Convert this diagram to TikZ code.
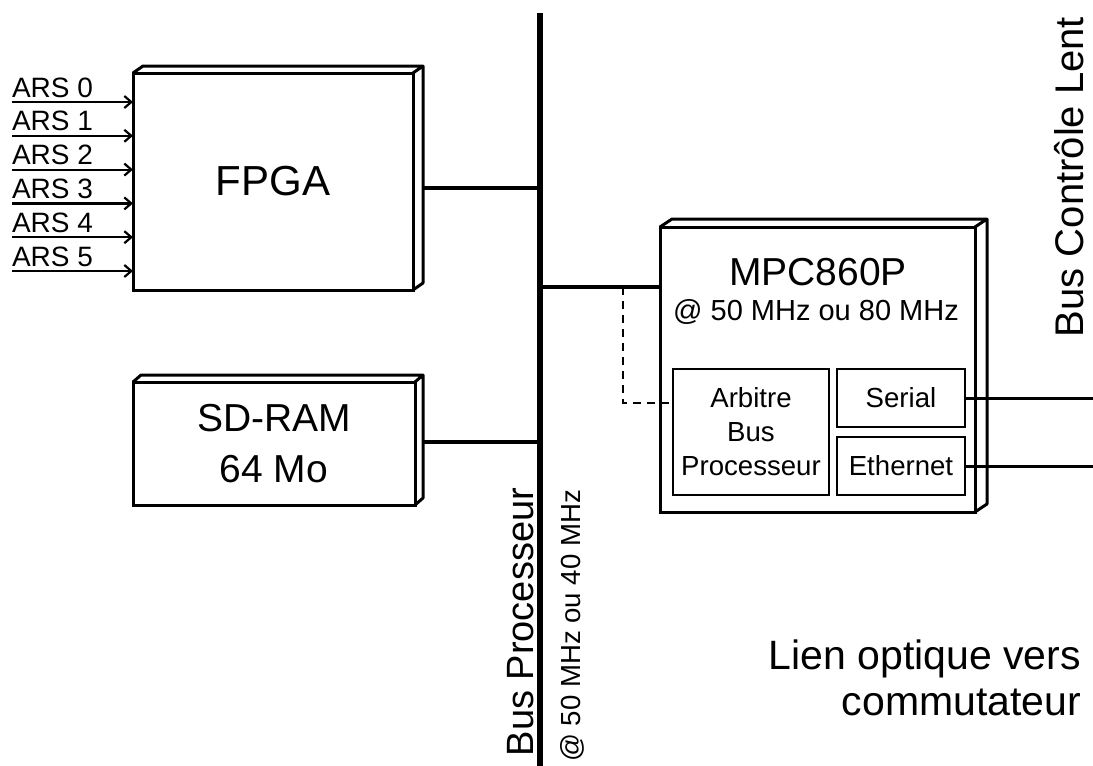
\documentclass[tikz,border=0pt]{standalone}
\usepackage{fontspec}
\setmainfont{Liberation Sans}
\usetikzlibrary{arrows.meta,calc}
\newcommand\fs[2]{\fontsize{#1}{#2}\selectfont}
\tikzset{
  unit/.style={draw, line width=1.5pt, fill=white, inner sep=0pt, outer sep=0pt,
               align=center},
  sub/.style={draw, line width=1.3pt, fill=white, inner sep=0pt, outer sep=0pt,
              align=center, font=\fs{13.8}{17}},
  face/.style={line width=1.5pt, line join=round},
  bus/.style={line width=3pt},
  link/.style={line width=2pt},
  sig/.style={line width=1.5pt},
  dline/.style={line width=1.4pt, dash pattern=on 4pt off 3pt},
  inarrow/.style={-{Straight Barb[length=3.5pt,width=6pt]}, line width=1.1pt},
  tag/.style={inner sep=0pt, outer sep=0pt},
}
% top and right faces of a block
\newcommand\bevelbox[2]{%
  \draw[face] (#1.north west) -- ++#2 -- ($(#1.north east)+#2$) -- (#1.north east)
    ($(#1.north east)+#2$) -- ($(#1.south east)+#2$) -- (#1.south east);}

\begin{document}
\begin{tikzpicture}[x=0.5pt,y=-0.5pt]
\useasboundingbox (0,0) rectangle (1093,766);

% processor bus
\coordinate (bustop) at (540,13);
\coordinate (busbot) at (540,780);
\draw[bus] (bustop) -- (busbot);
\node[tag, rotate=90, anchor=base east, font=\fs{19}{23}] (busname) at (533,488) {Bus Processeur};
\node[tag, rotate=90, anchor=base east, font=\fs{13.8}{17}] (busclk) at (580,490) {@ 50 MHz ou 40 MHz};

% blocks
\node[unit, minimum width=140pt, minimum height=108.5pt, font=\fs{21}{25}] (fpga) at (273,181.5) {FPGA};
\bevelbox{fpga}{(10,-7)}
\node[unit, minimum width=141pt, minimum height=61.5pt, font=\fs{19.5}{25.5}] (sdram) at (274,443.5) {SD-RAM\\64 Mo};
\bevelbox{sdram}{(8,-7)}
\node[unit, minimum width=157.5pt, minimum height=142.5pt] (mpc) at (817.5,369.5) {};
\bevelbox{mpc}{(12,-8)}
\node[tag, font=\fs{19.5}{23}] (mpcname) at (818,272) {MPC860P};
\node[tag, font=\fs{14.5}{17}] (mpcclk) at (816,312) {@ 50 MHz ou 80 MHz};
\node[sub, minimum width=78pt, minimum height=63pt] (arb) at (751,432) {Arbitre\\Bus\\Processeur};
\node[sub, minimum width=64pt, minimum height=29pt] (ser) at (901,398) {Serial};
\node[sub, minimum width=64pt, minimum height=29pt] (eth) at (901,466) {Ethernet};

% FPGA inputs
\foreach \i in {0,...,5}{
  \coordinate (ars\i) at (12,{102+33.8*\i});
  \draw[inarrow] (ars\i) -- (ars\i -| fpga.west);
  \node[tag, anchor=base west, font=\fs{14}{17}] (lab\i) at ([yshift=2.5pt]ars\i) {ARS \i};
}

% bus connections
\coordinate (jf) at (540,188);
\draw[link] (jf) -- ([xshift=5pt]jf -| fpga.east);
\coordinate (js) at (540,442);
\draw[link] (js) -- ([xshift=4pt]js -| sdram.east);
\coordinate (jm) at (540,287);
\draw[link] (jm) -- (jm -| mpc.west);
\coordinate (jd) at (623,287);
\draw[dline] (jd) |- ($(arb.north west)+(0,34)$);

% slow control bus
\coordinate (serout) at (1093,398);
\coordinate (ethout) at (1093,466);
\draw[sig] (ser.east) -- (serout);
\draw[sig] (eth.east) -- (ethout);
\node[tag, rotate=90, anchor=base west, font=\fs{20}{24}] (slow) at (1083,337) {Bus Contrôle Lent};
\node[tag, anchor=north east, align=right, font=\fs{20.5}{23}] (optic) at (1081,640) {Lien optique vers\\commutateur};
\end{tikzpicture}
\end{document}
